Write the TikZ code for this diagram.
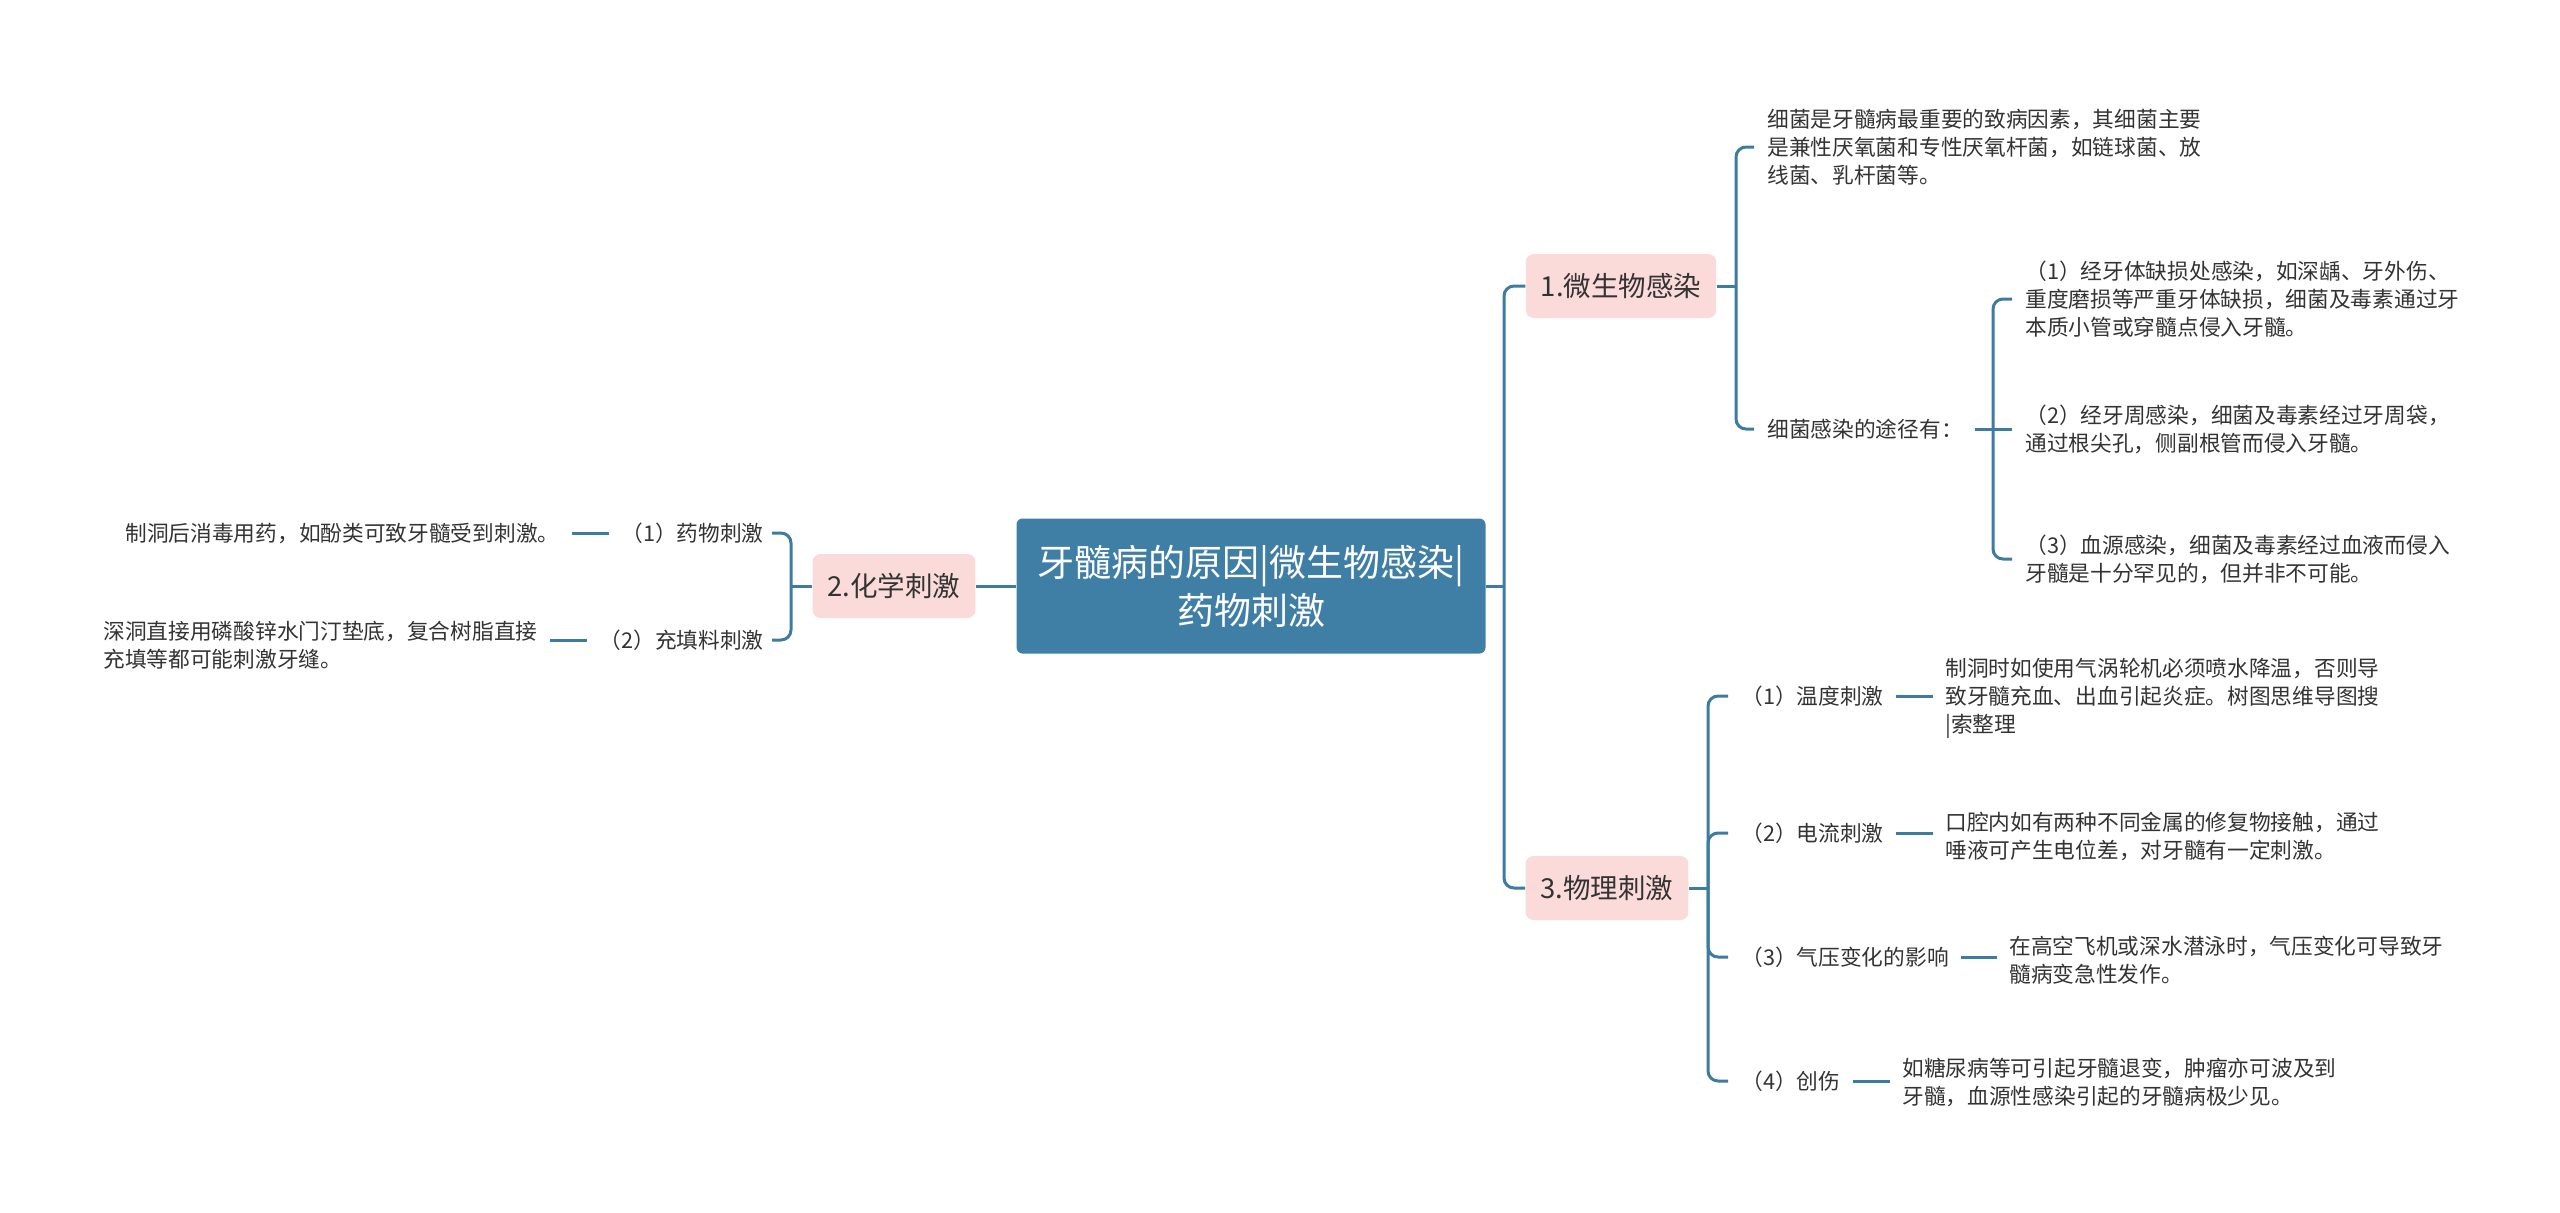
\documentclass[tikz,border=0pt]{standalone}
\usepackage{fontspec}
\setmainfont{Noto Sans CJK SC}
\usepackage{xcolor}
\usetikzlibrary{positioning, calc}
\definecolor{ink}{HTML}{333333}
\definecolor{stem}{HTML}{3E7BA1}
\definecolor{core}{HTML}{3F7FA6}
\definecolor{blush}{HTML}{FADBDA}

\begin{document}
\begin{tikzpicture}[x=0.5pt, y=-0.5pt,
  root/.style={fill=core, text=white, rounded corners=3pt, minimum width=234.5pt, minimum height=67.5pt, align=center, font=\fontsize{18.5}{24}\selectfont},
  topic/.style={fill=blush, text=ink, rounded corners=4pt, minimum height=32pt, inner xsep=7.5pt, font=\fontsize{13.75}{16}\selectfont},
  leaf/.style={text=ink, inner sep=0pt, align=left, font=\fontsize{10.85}{14}\selectfont},
  arr/.style={stem, line width=1.5pt, rounded corners=5pt},
  gap/.style={shorten <=6pt, shorten >=6pt}
]
  \useasboundingbox (0,0) rectangle (2560,1212);

  \node[root] (r) at (1251,586) {牙髓病的原因|微生物感染|\\药物刺激};
  \node[topic] (t1) at (1621,286) {1.微生物感染};
  \node[topic] (t2) at (894,586) {2.化学刺激};
  \node[topic] (t3) at (1607,888) {3.物理刺激};

  \node[leaf, anchor=west] (a1) at (1767,147) {细菌是牙髓病最重要的致病因素，其细菌主要\\是兼性厌氧菌和专性厌氧杆菌，如链球菌、放\\线菌、乳杆菌等。};
  \node[leaf, anchor=west] (a2) at (1767,429) {细菌感染的途径有：};
  \node[leaf, anchor=west] (b1) at (2025,299) {（1）经牙体缺损处感染，如深龋、牙外伤、\\重度磨损等严重牙体缺损，细菌及毒素通过牙\\本质小管或穿髓点侵入牙髓。};
  \node[leaf, anchor=west] (b2) at (2025,429) {（2）经牙周感染，细菌及毒素经过牙周袋，\\通过根尖孔，侧副根管而侵入牙髓。};
  \node[leaf, anchor=west] (b3) at (2025,559) {（3）血源感染，细菌及毒素经过血液而侵入\\牙髓是十分罕见的，但并非不可能。};

  \node[leaf, anchor=west] (c1) at (1741,696) {（1）温度刺激};
  \node[leaf, anchor=west] (c2) at (1741,833) {（2）电流刺激};
  \node[leaf, anchor=west] (c3) at (1741,957) {（3）气压变化的影响};
  \node[leaf, anchor=west] (c4) at (1741,1081) {（4）创伤};
  \node[leaf, anchor=west] (d1) at (1945,698) {制洞时如使用气涡轮机必须喷水降温，否则导\\致牙髓充血、出血引起炎症。树图思维导图搜\\|索整理};
  \node[leaf, anchor=west] (d2) at (1945,836) {口腔内如有两种不同金属的修复物接触，通过\\唾液可产生电位差，对牙髓有一定刺激。};
  \node[leaf, anchor=west] (d3) at (2009,960) {在高空飞机或深水潜泳时，气压变化可导致牙\\髓病变急性发作。};
  \node[leaf, anchor=west] (d4) at (1902,1082) {如糖尿病等可引起牙髓退变，肿瘤亦可波及到\\牙髓，血源性感染引起的牙髓病极少见。};

  \node[leaf, anchor=east] (e1) at (764,533) {（1）药物刺激};
  \node[leaf, anchor=east] (e2) at (764,640) {（2）充填料刺激};
  \node[leaf, anchor=west] (f1) at (125,533) {制洞后消毒用药，如酚类可致牙髓受到刺激。};
  \node[leaf, anchor=west] (f2) at (103,645) {深洞直接用磷酸锌水门汀垫底，复合树脂直接\\充填等都可能刺激牙缝。};

  \coordinate (jr) at (1504,586);
  \coordinate (jl) at (791,586);
  \coordinate (j1) at (1736,286);
  \coordinate (j2) at (1993,429);
  \coordinate (j3) at (1708,888);

  \draw[arr] (r.east) -- (jr);
  \draw[arr] (r.west) -- (t2.east);
  \foreach \n in {t1, t3} \draw[arr] (jr) |- (\n.west);
  \draw[arr] (t1.east) -- (j1);
  \foreach \n in {a1, a2} \draw[arr, shorten >=6.5pt] (j1) |- (\n.west);
  \draw[arr, shorten <=6pt] (a2.east) -- (j2);
  \foreach \n in {b1, b3} \draw[arr, shorten >=6.5pt] (j2) |- (\n.west);
  \draw[arr, shorten >=6.5pt] (j2) -- (b2.west);
  \draw[arr] (t3.east) -- (j3);
  \foreach \n in {c1, c2, c3, c4} \draw[arr, shorten >=6.5pt] (j3) |- (\n.west);
  \foreach \a/\b in {c1/d1, c2/d2, c3/d3, c4/d4} \draw[arr, gap] (\a.east) -- (\a.east -| \b.west);
  \draw[arr] (t2.west) -- (jl);
  \foreach \n in {e1, e2} \draw[arr, shorten >=4pt] (jl) |- (\n.east);
  \foreach \a/\b in {e1/f1, e2/f2} \draw[arr, gap] (\a.west) -- (\a.west -| \b.east);
\end{tikzpicture}
\end{document}
